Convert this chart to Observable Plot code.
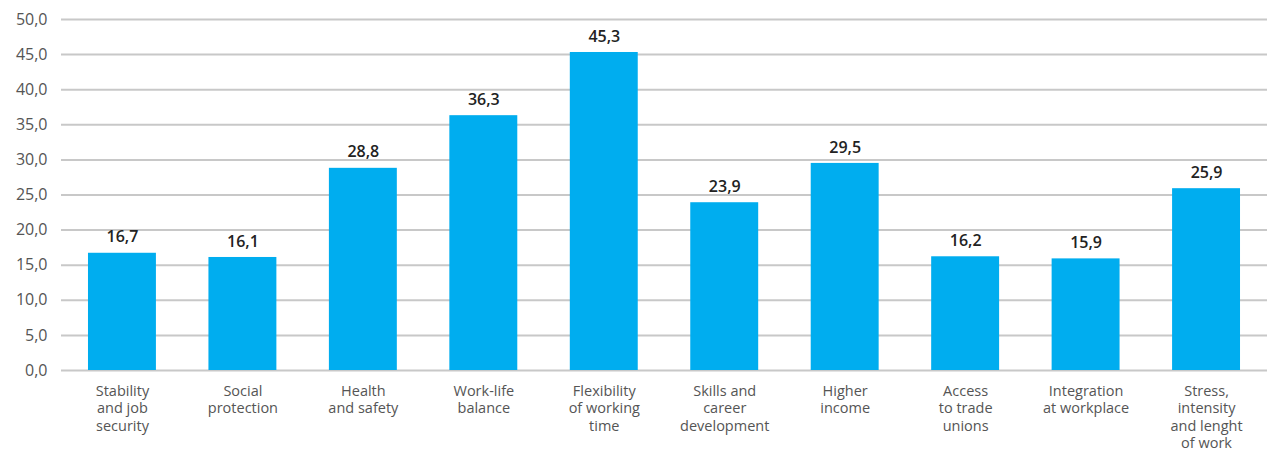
<!DOCTYPE html>
<html><head><meta charset="utf-8">
<script src="https://cdn.jsdelivr.net/npm/d3@7"></script>
<script src="https://cdn.jsdelivr.net/npm/@observablehq/plot@0.6"></script>
<style>
body{margin:0;background:#fff;}
#chart svg{display:block;}
</style>
</head><body><div id="chart"></div>
<script>
const categories = [
  "Stability\nand job\nsecurity",
  "Social\nprotection",
  "Health\nand safety",
  "Work-life\nbalance",
  "Flexibility\nof working\ntime",
  "Skills and\ncareer\ndevelopment",
  "Higher\nincome",
  "Access\nto trade\nunions",
  "Integration\nat workplace",
  "Stress,\nintensity\nand lenght\nof work"
];
const values = [16.7, 16.1, 28.8, 36.3, 45.3, 23.9, 29.5, 16.2, 15.9, 25.9];
const yTicks = [0, 5, 10, 15, 20, 25, 30, 35, 40, 45, 50];

const data = categories.map((c, i) => ({category: c, value: values[i]}));
const fmt = d => d.toFixed(1).replace(".", ",");

const chart = Plot.plot({
  width: 1268,
  height: 454,
  marginTop: 19,
  marginBottom: 84,
  marginLeft: 61,
  marginRight: 1,
  style: {fontFamily: "'Open Sans', sans-serif", background: "#fff"},
  x: {domain: categories, paddingInner: 0.436, paddingOuter: 0.224, round: false, label: null},
  y: {domain: [0, 50], ticks: yTicks, label: null},
  marks: [
    Plot.ruleY(yTicks, {stroke: "#c8c8c8", strokeWidth: 2}),
    Plot.barY(data, {x: "category", y: "value", fill: "#00adef"}),
    Plot.text(data, {x: "category", y: "value", text: d => fmt(d.value), dy: -16,
      fontSize: 16, fontWeight: 600, fill: "#222"}),
    Plot.axisY({ticks: yTicks, tickFormat: fmt, tickSize: 0, tickPadding: 14,
      fontSize: 16, fill: "#555", label: null}),
    Plot.axisX({tickSize: 0, tickPadding: 13, fontSize: 14.5, lineHeight: 1.2,
      fill: "#555", label: null, textAnchor: "middle"})
  ]
});
document.getElementById("chart").appendChild(chart);
</script>
</body></html>
